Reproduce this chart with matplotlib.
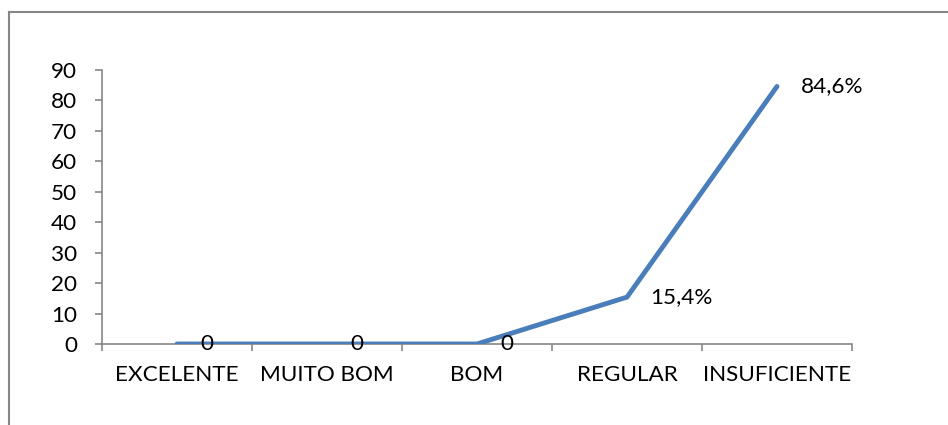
import matplotlib
matplotlib.use("Agg")
import matplotlib.pyplot as plt
from matplotlib.lines import Line2D
import numpy as np

# dados do gráfico
categorias = ["EXCELENTE", "MUITO BOM", "BOM", "REGULAR", "INSUFICIENTE"]
valores = [0, 0, 0, 15.4, 84.6]
rotulos = ["0", "0", "0", "15,4%", "84,6%"]
yticks = [0, 10, 20, 30, 40, 50, 60, 70, 80, 90]

plt.rcParams['font.family'] = ['Lato', 'DejaVu Sans']
cinza = '#868686'
azul = '#4a7ebb'
fs = 16.2

fig = plt.figure(figsize=(9.48, 4.25), dpi=100)
ax = fig.add_axes([102/948, 1-344/425, 750/948, 274/425])

x = np.arange(len(categorias))
ax.plot(x, valores, color=azul, lw=3.5, solid_capstyle='round', solid_joinstyle='round', zorder=3)

# rótulos de dados à direita de cada ponto
for xi, v, t in zip(x, valores, rotulos):
    ax.annotate(t, (xi, v), xytext=(17, 0), textcoords='offset points',
                ha='left', va='center', fontsize=fs, color='black', zorder=4)

ax.set_xlim(-0.5, len(categorias) - 0.5)
ax.set_ylim(0, 90)
ax.set_yticks(yticks)
ax.set_xticks(x)
ax.set_xticklabels(categorias)
ax.set_xticks(np.arange(-0.5, len(categorias)), minor=True)

for s in ['top', 'right']:
    ax.spines[s].set_visible(False)
for s in ['left', 'bottom']:
    ax.spines[s].set_color(cinza)
    ax.spines[s].set_linewidth(1.2)

ax.tick_params(axis='y', length=5, width=1.2, color=cinza, pad=13, labelsize=fs)
ax.tick_params(axis='x', which='major', length=0, pad=15, labelsize=fs)
ax.tick_params(axis='x', which='minor', length=5, width=1.2, color=cinza)

# moldura do gráfico (só esquerda e topo)
fig.add_artist(Line2D([8.5/948, 8.5/948], [0, 1-11.5/425], color=cinza, lw=1.5, transform=fig.transFigure))
fig.add_artist(Line2D([8.5/948, 1], [1-11.5/425, 1-11.5/425], color=cinza, lw=1.5, transform=fig.transFigure))

fig.savefig("out.png", dpi=100)
